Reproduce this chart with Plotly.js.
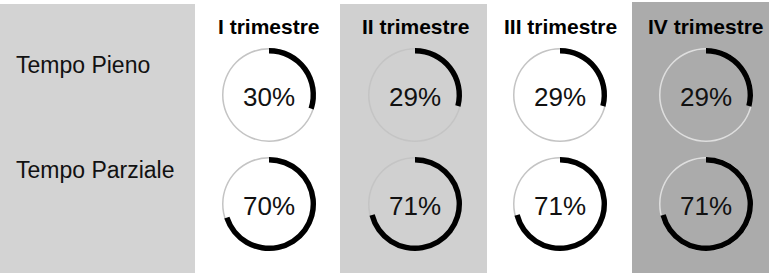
<!DOCTYPE html>
<html>
<head>
<meta charset="utf-8">
<script src="https://cdn.plot.ly/plotly-3.0.1.min.js"></script>
<style>
  html, body { margin: 0; padding: 0; background: #ffffff; }
  #chart { width: 769px; height: 273px; }
</style>
</head>
<body>
<div id="chart"></div>
<script>
// ---- data ----
const quarters = ['I trimestre', 'II trimestre', 'III trimestre', 'IV trimestre'];
const rowLabels = ['Tempo Pieno', 'Tempo Parziale'];
const tempoPieno = [30, 29, 29, 29];
const tempoParziale = [70, 71, 71, 71];

// ---- layout constants (pixels) ----
const W = 769, H = 273;
const colCenters = [269, 415, 560, 706];
const rowCenters = [95, 204];
const R = 47;
const series = [tempoPieno, tempoParziale];

const traces = [];
series.forEach((vals, ri) => {
  vals.forEach((v, ci) => {
    const cx = colCenters[ci], cy = rowCenters[ri];
    const domain = {
      x: [(cx - R) / W, (cx + R) / W],
      y: [1 - (cy + R) / H, 1 - (cy - R) / H]
    };
    // thin remainder ring
    traces.push({
      type: 'pie', values: [100], hole: 0.968, sort: false,
      marker: { colors: [ci === 3 ? '#dedede' : '#c4c4c4'], line: { width: 0 } },
      textinfo: 'none', hoverinfo: 'skip', showlegend: false, domain: domain
    });
    // value arc
    traces.push({
      type: 'pie', values: [v, 100 - v], hole: 0.885, sort: false,
      direction: 'clockwise', rotation: 0,
      marker: { colors: ['#000000', 'rgba(0,0,0,0)'], line: { width: 0 } },
      textinfo: 'none', hoverinfo: 'skip', showlegend: false, domain: domain,
      title: { text: v + '%', position: 'middle center',
               font: { family: 'Liberation Sans, Arial, sans-serif', size: 26, color: '#111' } }
    });
  });
});

const annotations = [];
quarters.forEach((q, ci) => {
  annotations.push({
    text: '<b>' + q + '</b>', xref: 'paper', yref: 'paper',
    x: colCenters[ci] / W, y: 1 - 26 / H, xanchor: 'center', yanchor: 'middle',
    showarrow: false,
    font: { family: 'Liberation Sans, Arial, sans-serif', size: 21, color: '#000' }
  });
});
const labelY = [65, 170];
rowLabels.forEach((t, ri) => {
  annotations.push({
    text: t, xref: 'paper', yref: 'paper',
    x: 14 / W, y: 1 - labelY[ri] / H, xanchor: 'left', yanchor: 'middle',
    showarrow: false,
    font: { family: 'Liberation Sans, Arial, sans-serif', size: 23, color: '#111' }
  });
});

const bands = [
  { x0: 0, x1: 195, y0: 4, fill: '#d3d3d3' },
  { x0: 340, x1: 487, y0: 4, fill: '#d0d0d0' },
  { x0: 632, x1: 769, y0: 2, fill: '#ababab' }
];
const shapes = bands.map(b => ({
  type: 'rect', xref: 'paper', yref: 'paper', layer: 'below',
  x0: b.x0 / W, x1: b.x1 / W, y0: 0, y1: 1 - b.y0 / H,
  fillcolor: b.fill, line: { width: 0 }
}));

const layout = {
  width: W, height: H,
  margin: { l: 0, r: 0, t: 0, b: 0 },
  paper_bgcolor: '#ffffff', plot_bgcolor: '#ffffff',
  showlegend: false,
  annotations: annotations,
  shapes: shapes
};

Plotly.newPlot('chart', traces, layout, { displayModeBar: false, staticPlot: true });
</script>
</body>
</html>
